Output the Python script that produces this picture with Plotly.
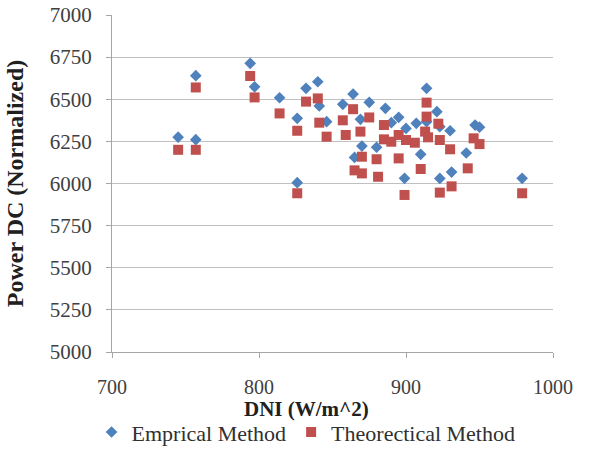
import plotly.graph_objects as go

emp_x = [745, 757, 757, 794, 797, 814, 826, 826, 832, 840, 841, 846, 857, 864, 865,
         869, 870, 875, 880, 886, 890, 895, 900, 899, 907, 910, 914, 914, 921, 923,
         923, 930, 931, 941, 947, 950, 979]
emp_y = [6275, 6640, 6260, 6713, 6574, 6509, 6387, 6005, 6565, 6604, 6460, 6367, 6470, 6531, 6155,
         6381, 6222, 6482, 6215, 6446, 6361, 6393, 6327, 6031, 6357, 6173, 6565, 6367, 6426, 6337,
         6030, 6313, 6068, 6181, 6347, 6334, 6031]

theo_x = [745, 757, 757, 794, 797, 814, 826, 826, 832, 840, 841, 846, 857, 859, 864,
          865, 869, 870, 870, 875, 880, 881, 885, 885, 890, 895, 895, 900, 899, 906,
          910, 914, 914, 913, 915, 922, 923, 923, 930, 931, 942, 946, 950, 979]
theo_y = [6200, 6570, 6200, 6638, 6511, 6416, 6313, 5942, 6486, 6505, 6361, 6278, 6375, 6288, 6441,
          6078, 6308, 6159, 6060, 6392, 6144, 6040, 6347, 6262, 6248, 6288, 6149, 6258, 5932, 6242,
          6086, 6480, 6397, 6308, 6274, 6355, 6258, 5946, 6203, 5983, 6090, 6268, 6234, 5942]

x_ticks = [700, 800, 900, 1000]
y_ticks = [5000, 5250, 5500, 5750, 6000, 6250, 6500, 6750, 7000]

FONT = "Liberation Serif"

fig = go.Figure()
fig.add_trace(go.Scatter(x=emp_x, y=emp_y, mode="markers", name="Emprical Method",
                         marker=dict(symbol="diamond", size=9, color="#4F81BD")))
fig.add_trace(go.Scatter(x=theo_x, y=theo_y, mode="markers", name="Theorectical Method",
                         marker=dict(symbol="square", size=10, color="#C0504D")))

fig.update_layout(
    width=589, height=450,
    margin=dict(l=112, r=36, t=15, b=98, autoexpand=False),
    paper_bgcolor="white", plot_bgcolor="white",
    font=dict(family=FONT, size=21, color="#404040"),
    showlegend=True,
    legend=dict(orientation="h", x=0.44, xanchor="center", xref="paper",
                y=-0.238, yanchor="middle", font=dict(size=22, color="#303030"),
                itemwidth=30, tracegroupgap=0),
    xaxis=dict(range=[700, 1000], tickvals=x_ticks, showgrid=False,
               showline=True, linecolor="#A6A6A6", linewidth=1.3,
               ticks="outside", ticklen=5, tickcolor="#A6A6A6",
               ticklabelstandoff=12, zeroline=False, automargin=False,
               tickfont=dict(size=20, color="#404040")),
    yaxis=dict(range=[5000, 7000], tickvals=y_ticks, showgrid=True,
               gridcolor="#C0C0C0", gridwidth=1.3,
               showline=True, linecolor="#A6A6A6", linewidth=1.3,
               ticks="outside", ticklen=5, tickcolor="#A6A6A6",
               ticklabelstandoff=10, zeroline=False, automargin=False,
               tickfont=dict(size=21, color="#404040"),
               title=dict(text="<b>Power DC (Normalized)</b>", standoff=19,
                          font=dict(size=24, color="#202020"))),
    annotations=[dict(text="<b>DNI (W/m^2)</b>", xref="paper", yref="paper",
                      x=0.44, y=-0.168, xanchor="center", yanchor="middle",
                      showarrow=False, font=dict(size=21, color="#202020"))],
)

fig.write_html("out.html", config={"displayModeBar": False},
               post_script="document.body.style.margin='0';")
